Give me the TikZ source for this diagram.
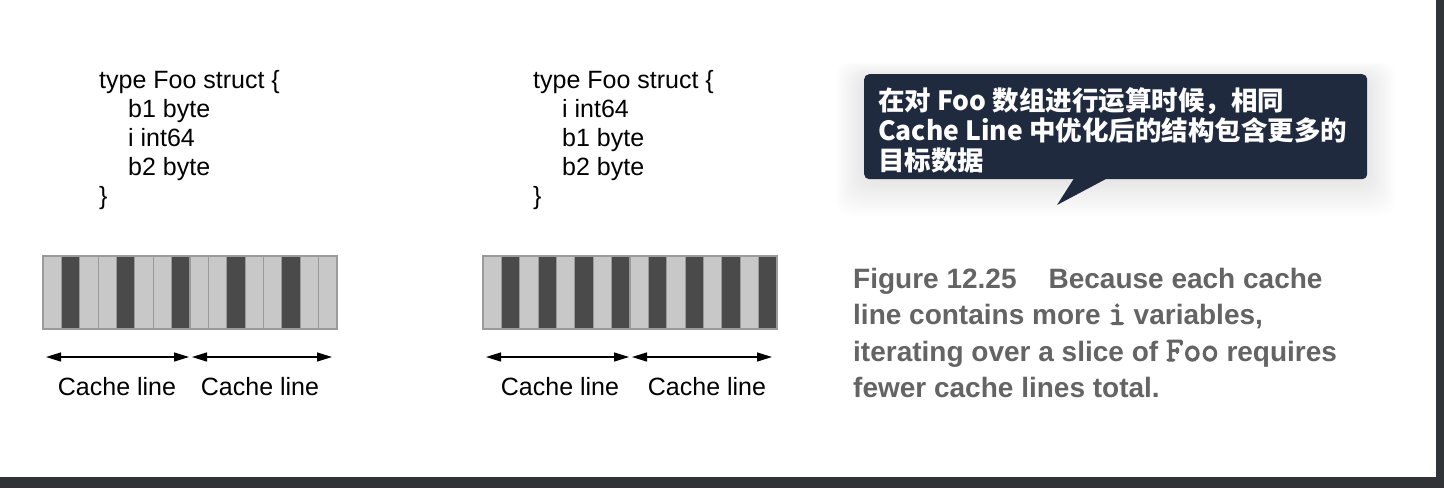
\documentclass[tikz,border=0pt]{standalone}
\usepackage{fontspec}
\setmainfont{Liberation Sans}
\newfontfamily\cjk{Noto Sans CJK SC}
\newfontfamily\capmono{Latin Modern Mono}[FakeBold=3,Scale=1.22]
\usetikzlibrary{positioning,arrows.meta,calc}
\definecolor{cellL}{HTML}{C8C8C8}
\definecolor{cellD}{HTML}{4A4A4A}
\definecolor{cellrule}{HTML}{9A9A9A}
\definecolor{noteblue}{HTML}{1F2A3F}
\definecolor{capgray}{HTML}{646464}
\definecolor{framegray}{HTML}{303437}
\tikzset{
  codeline/.style={anchor=base west, inner sep=0pt, font=\fontsize{25}{29}\selectfont},
  cell/.style    ={draw=cellrule, line width=1.2pt, minimum width=18.375pt,
                   minimum height=73pt, inner sep=0pt, outer sep=0pt,
                   anchor=north west},
  % one cache line, arrow heads at both ends
  cachespan/.style={line width=1.3pt,
                   {Triangle[length=15pt,width=9pt]}-{Triangle[length=15pt,width=9pt]}},
  spanlabel/.style={anchor=base, inner sep=0pt, font=\fontsize{25}{29}\selectfont},
  notebox/.style ={fill=noteblue, rounded corners=5pt, inner sep=0pt,
                   minimum width=503pt, minimum height=105pt, anchor=north west},
  notetext/.style={anchor=base west, inner sep=0pt, text=white,
                   font=\cjk\bfseries\fontsize{26.5}{30}\selectfont},
  capline/.style ={anchor=base west, inner sep=0pt, text=capgray,
                   font=\bfseries\fontsize{28}{36}\selectfont},
}
\def\codeleft{0/type Foo struct \{, 1/b1 byte, 1/i int64, 1/b2 byte, 0/\}}
\def\coderight{0/type Foo struct \{, 1/i int64, 1/b1 byte, 1/b2 byte, 0/\}}
\newcommand{\capcode}[1]{{\capmono\mdseries #1}}
\begin{document}
\begin{tikzpicture}[x=1pt,y=-1pt]
\useasboundingbox (0,0) rectangle (1444,488);
\fill[white] (0,0) rectangle (1444,488);
% --- the two struct layouts ---
\foreach \ind/\txt [count=\k] in \codeleft
  {\node[codeline] (codeL\k) at ({99+29*\ind},{88+29*(\k-1)}) {\txt};}
\foreach \ind/\txt [count=\k] in \coderight
  {\node[codeline] (codeR\k) at ({533+29*\ind},{88+29*(\k-1)}) {\txt};}
% --- memory cells: dark = i int64 ---
\foreach \i in {1,...,16}{
  \pgfmathtruncatemacro\m{mod(\i,3)}
  \ifnum\m=2 \def\cl{cellD}\else\def\cl{cellL}\fi
  \node[cell,fill=\cl] (lc\i) at ({43+(\i-1)*18.375},256) {};
  \pgfmathtruncatemacro\m{mod(\i,2)}
  \ifnum\m=0 \def\cl{cellD}\else\def\cl{cellL}\fi
  \node[cell,fill=\cl] (rc\i) at ({483+(\i-1)*18.375},256) {};
}
% --- cache line spans ---
\coordinate (la0) at (46,357);  \coordinate (la1) at (189,357);
\coordinate (la2) at (192,357); \coordinate (la3) at (332,357);
\coordinate (ra0) at (486,357); \coordinate (ra1) at (629,357);
\coordinate (ra2) at (632,357); \coordinate (ra3) at (772,357);
\draw[cachespan] (la0) -- (la1);
\draw[cachespan] (la2) -- (la3);
\draw[cachespan] (ra0) -- (ra1);
\draw[cachespan] (ra2) -- (ra3);
\node[spanlabel] (lcl1) at (117,395) {Cache line};
\node[spanlabel] (lcl2) at (260,395) {Cache line};
\node[spanlabel] (rcl1) at (560,395) {Cache line};
\node[spanlabel] (rcl2) at (707,395) {Cache line};
% --- callout with soft shadow ---
\foreach \s in {1,...,24}
  {\fill[black,opacity=0.0025,rounded corners=16pt]
     ({864-1.2*\s},{78-0.7*\s}) rectangle ({1367+1.2*\s},{180+1.5*\s});}
\node[notebox] (note) at (864,74) {};
\fill[noteblue] ($(note.south west)+(210,-1)$) -- (1057,205)
  -- ($(note.south west)+(243,-1)$) -- cycle;
\node[notetext] (note1) at (878,110) {在对 Foo 数组进行运算时候，相同};
\node[notetext] (note2) at (878,140) {Cache Line 中优化后的结构包含更多的};
\node[notetext] (note3) at (878,170) {目标数据};
% --- figure caption ---
\node[capline] (cap1) at (853,288) {Figure 12.25\hspace{32pt}Because each cache};
\node[capline] (cap2) at (853,324.5) {line contains more \capcode{i} variables,};
\node[capline] (cap3) at (853,361) {iterating over a slice of \capcode{Foo} requires};
\node[capline] (cap4) at (853,397.5) {fewer cache lines total.};
% --- window frame ---
\fill[framegray] (0,477) rectangle (1444,488);
\fill[framegray] (1436,0) rectangle (1444,488);
\end{tikzpicture}
\end{document}
